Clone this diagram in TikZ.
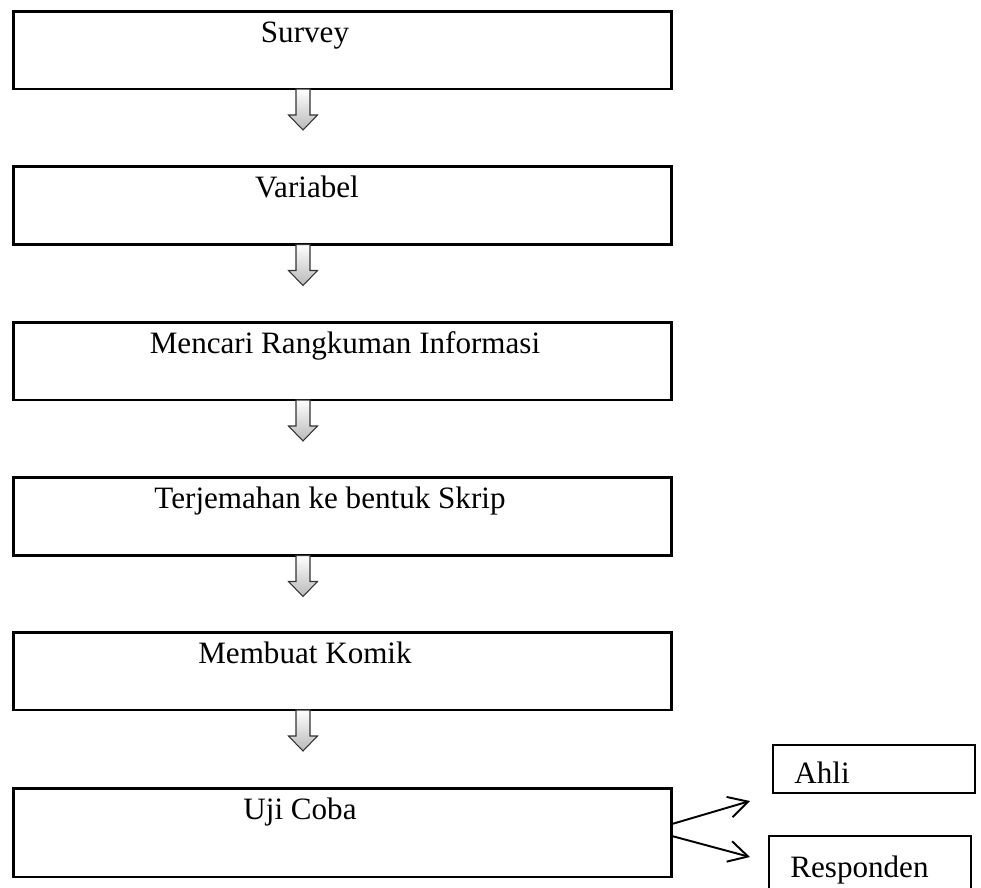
\documentclass[tikz,border=0pt]{standalone}
\usepackage{fontspec}
\setmainfont{Liberation Serif}
\usetikzlibrary{arrows.meta}

\tikzset{
  stepbox/.style={draw,line width=1.7pt,minimum width=13.18cm,minimum height=1.56cm,inner sep=0pt,outer sep=0pt},
  sidebox/.style={draw,line width=0.75pt,minimum width=4.04cm,inner sep=0pt,outer sep=0pt},
  lbl/.style={anchor=base,inner sep=0pt,font=\fontsize{17.7}{20}\selectfont},
  sidelbl/.style={anchor=base west,inner sep=0pt,font=\fontsize{17.7}{20}\selectfont},
  branch/.style={line width=1.1pt,-{Straight Barb[length=11pt,width=12pt]}},
  downarrow/.pic={
    \shade[top color=white,bottom color=gray!55,draw=black!80,line width=0.6pt]
      (-7,0) -- (7,0) -- (7,26) -- (14.5,26) -- (0,41) -- (-14.5,26) -- (-7,26) -- cycle;
  }
}

\begin{document}
\begin{tikzpicture}[x=0.02cm,y=-0.02cm]
\clip (0,0) rectangle (981,887);

% main steps
\node[stepbox] (survey) at (342.5,50) {};
\node[stepbox] (variabel) at (342.5,205.5) {};
\node[stepbox] (rangkuman) at (342.5,361) {};
\node[stepbox] (skrip) at (342.5,516.5) {};
\node[stepbox] (komik) at (342.5,671) {};
\node[stepbox,minimum height=1.78cm] (ujicoba) at (342.5,832.5) {};

\node[lbl] (tsurvey) at (305,42) {Survey};
\node[lbl] (tvariabel) at (307,197.5) {Variabel};
\node[lbl] (trangkuman) at (345,353) {Mencari Rangkuman Informasi};
\node[lbl] (tskrip) at (330,508.5) {Terjemahan ke bentuk Skrip};
\node[lbl] (tkomik) at (305,663) {Membuat Komik};
\node[lbl] (tujicoba) at (300,819) {Uji Coba};

% block arrows
\coordinate (axis) at (303,0);
\pic at (axis |- survey.south) {downarrow};
\pic at (axis |- variabel.south) {downarrow};
\pic at (axis |- rangkuman.south) {downarrow};
\pic at (axis |- skrip.south) {downarrow};
\pic at (axis |- komik.south) {downarrow};

% side boxes
\node[sidebox,minimum height=0.96cm] (ahli) at (874,769) {};
\node[sidebox,minimum height=1.28cm] (responden) at (870,868) {};
\node[sidelbl] (tahli) at (794,783) {Ahli};
\node[sidelbl] (tresponden) at (790,877) {Responden};

\coordinate (toahli) at (750,801);
\coordinate (toresp) at (750,857);
\draw[branch] ([yshift=0.17cm]ujicoba.east) -- (toahli);
\draw[branch] ([yshift=-0.07cm]ujicoba.east) -- (toresp);

\end{tikzpicture}
\end{document}
